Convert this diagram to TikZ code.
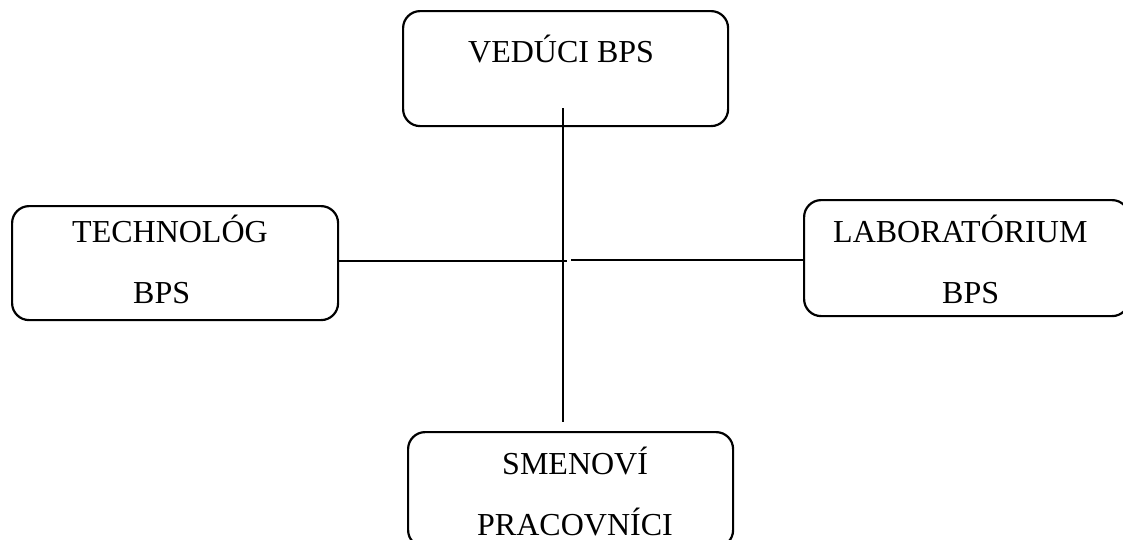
\documentclass[tikz,border=0pt]{standalone}
\usepackage{fontspec}
\setmainfont{Liberation Serif}
\begin{document}
\begin{tikzpicture}[x=1pt,y=-1pt,
  box/.style={draw=black, line width=2.2pt, rounded corners=17pt, inner sep=0pt, anchor=north west},
  lbl/.style={anchor=base west, inner sep=0pt, font=\fontsize{32}{38}\selectfont},
  conn/.style={draw=black, line width=2.2pt}]
\useasboundingbox (0,0) rectangle (1123,539);
\clip (0,0) rectangle (1123,539);
\node[box, minimum width=325pt, minimum height=115pt] (ved) at (402,10) {};
\node[box, minimum width=326pt, minimum height=114pt] (tech) at (11,205) {};
\node[box, minimum width=325pt, minimum height=116pt] (lab) at (803,199) {};
\node[box, minimum width=325pt, minimum height=115pt] (smen) at (407,431) {};
\node[lbl] (tved) at (468,62) {VEDÚCI BPS};
\node[lbl] (ttech1) at (72,242) {TECHNOLÓG};
\node[lbl] (ttech2) at (133,303) {BPS};
\node[lbl] (tlab1) at (833,242) {LABORATÓRIUM};
\node[lbl] (tlab2) at (942,303) {BPS};
\node[lbl] (tsm1) at (502,474) {SMENOVÍ};
\node[lbl] (tsm2) at (477,535) {PRACOVNÍCI};
\coordinate (vtop) at (563,108);
\coordinate (vbot) at (563,422);
\coordinate (hl) at (567,261);
\coordinate (hr) at (571,260);
\draw[conn] (vtop) -- (vbot);
\draw[conn] (tech.east |- hl) -- (hl);
\draw[conn] (hr) -- (lab.west |- hr);
\end{tikzpicture}
\end{document}
